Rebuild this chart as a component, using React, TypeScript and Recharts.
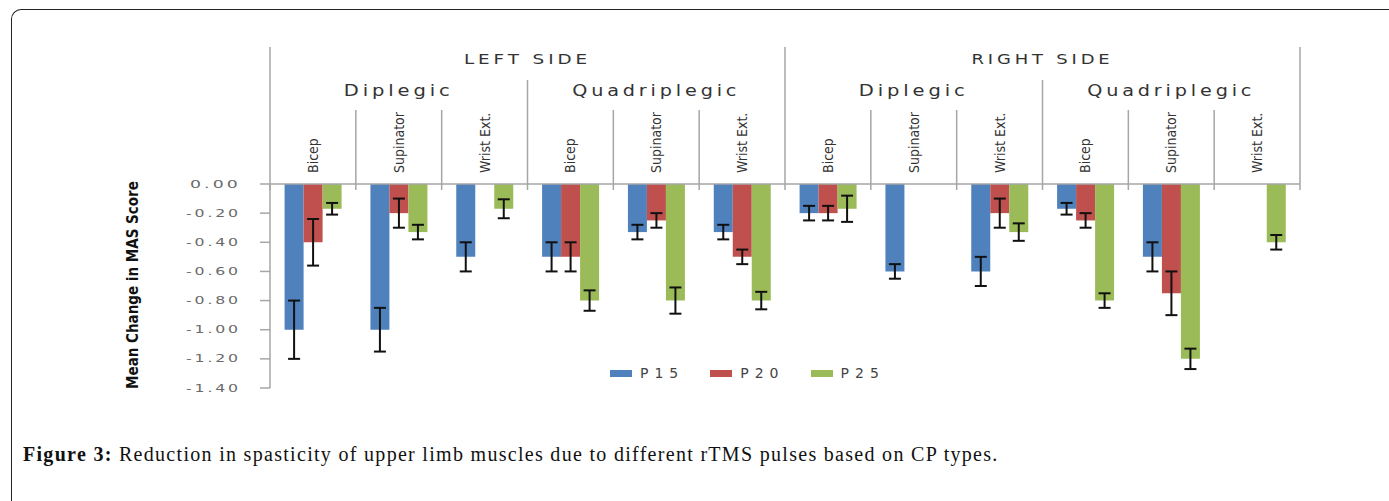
import React from 'react';
import { BarChart, Bar, XAxis, YAxis, ErrorBar, Legend } from 'recharts';

// categories (12 muscles, in groups of 3 per CP type, 6 per side)
const muscles = ['Bicep', 'Supinator', 'Wrist Ext.', 'Bicep', 'Supinator', 'Wrist Ext.', 'Bicep', 'Supinator', 'Wrist Ext.', 'Bicep', 'Supinator', 'Wrist Ext.'];
const cpTypes = ['Diplegic', 'Quadriplegic', 'Diplegic', 'Quadriplegic'];
const sides = ['LEFT SIDE', 'RIGHT SIDE'];

// mean change in MAS score per pulse setting
const p15 = [-1.0, -1.0, -0.5, -0.5, -0.33, -0.33, -0.2, -0.6, -0.6, -0.17, -0.5, null];
const p20 = [-0.4, -0.2, null, -0.5, -0.25, -0.5, -0.2, null, -0.2, -0.25, -0.75, null];
const p25 = [-0.17, -0.33, -0.17, -0.8, -0.8, -0.8, -0.17, null, -0.33, -0.8, -1.2, -0.4];

// error bars (+/-)
const p15Err = [0.2, 0.15, 0.1, 0.1, 0.05, 0.05, 0.05, 0.05, 0.1, 0.04, 0.1, null];
const p20Err = [0.16, 0.1, null, 0.1, 0.05, 0.05, 0.05, null, 0.1, 0.05, 0.15, null];
const p25Err = [0.04, 0.05, 0.065, 0.07, 0.09, 0.06, 0.09, null, 0.06, 0.05, 0.07, 0.05];

const yTicks = [0, -0.2, -0.4, -0.6, -0.8, -1.0, -1.2, -1.4];

const data = muscles.map((m, i) => ({
  muscle: m,
  P15: p15[i], e15: p15Err[i],
  P20: p20[i], e20: p20Err[i],
  P25: p25[i], e25: p25Err[i],
}));

// layout
const W = 1389;
const H = 440;
const PLOT_LEFT = 270;
const PLOT_RIGHT = 1300;
const PLOT_TOP = 184;
const PLOT_BOTTOM = 388;
const BAND = (PLOT_RIGHT - PLOT_LEFT) / muscles.length;
const GRID = '#a6a6a6';

const CategoryTick = (props: any) => {
  const { x, index } = props;
  const left = x - BAND / 2;
  const top = index % 6 === 0 ? 47 : index % 3 === 0 ? 80 : 110;
  const cp = index % 3 === 1 ? cpTypes[Math.floor(index / 3)] : null;
  const side = index % 6 === 2 ? sides[Math.floor(index / 6)] : null;
  return (
    <g>
      <line x1={left} x2={left} y1={top} y2={190} stroke={GRID} strokeWidth={1.5} />
      {index === muscles.length - 1 && (
        <line x1={x + BAND / 2} x2={x + BAND / 2} y1={47} y2={190} stroke={GRID} strokeWidth={1.5} />
      )}
      <text
        x={x}
        y={173}
        transform={`rotate(-90, ${x}, 173)`}
        textAnchor="start"
        dominantBaseline="central"
        fontFamily="'Liberation Sans Narrow', 'DejaVu Sans Condensed', sans-serif"
        fontSize={14}
        fill="#333"
      >
        {muscles[index]}
      </text>
      {cp && (
        <text x={x} y={96} textAnchor="middle" fontFamily="'DejaVu Sans', sans-serif" fontSize={15}
          letterSpacing={3} fill="#333" textLength={cp.length * 14.5 - 6} lengthAdjust="spacingAndGlyphs">
          {cp}
        </text>
      )}
      {side && (
        <text x={x + BAND / 2} y={64} textAnchor="middle" fontFamily="'DejaVu Sans', sans-serif" fontSize={14}
          letterSpacing={3} fill="#333" textLength={side.length * 14.8 - 6} lengthAdjust="spacingAndGlyphs">
          {side}
        </text>
      )}
    </g>
  );
};

const ValueTick = (props: any) => {
  const { x, y, payload } = props;
  const v = payload.value;
  const label = Math.abs(v) < 1e-9 ? '0.00' : v.toFixed(2);
  return (
    <text x={x - 17} y={y} textAnchor="end" dominantBaseline="central" fontFamily="'DejaVu Sans', sans-serif"
      fontSize={11} letterSpacing={2} fill="#6a6a6a" textLength={label.startsWith('-') ? 55 : 51}
      lengthAdjust="spacingAndGlyphs">
      {label}
    </text>
  );
};

const YLabel = (props: any) => {
  const vb = props.viewBox;
  const cx = vb.x + 133;
  const cy = vb.y + vb.height / 2 - 1;
  return (
    <text x={cx} y={cy} transform={`rotate(-90, ${cx}, ${cy})`} textAnchor="middle" dominantBaseline="central"
      fontFamily="'Liberation Sans Narrow', 'DejaVu Sans Condensed', sans-serif" fontWeight="bold" fontSize={15} fill="#111">
      Mean Change in MAS Score
    </text>
  );
};

const renderLegend = (props: any) => (
  <div style={{ display: 'flex', alignItems: 'center' }}>
    {props.payload.map((item: any) => (
      <div key={item.value} style={{ display: 'flex', alignItems: 'center', marginRight: 26 }}>
        <span style={{ display: 'inline-block', width: 22, height: 7, background: item.color, marginRight: 8 }} />
        <span style={{ fontFamily: "'DejaVu Sans', sans-serif", fontSize: 14, letterSpacing: 6, color: '#444' }}>
          {item.value}
        </span>
      </div>
    ))}
  </div>
);

export default function App() {
  return (
    <>
      <div
        style={{
          position: 'absolute', left: 11, top: 9, width: W - 11, height: 501 - 9, boxSizing: 'border-box',
          borderLeft: '1.5px solid #222', borderTop: '1.5px solid #222', borderTopLeftRadius: 10,
        }}
      />
      <div style={{ position: 'absolute', left: 0, top: 0, width: W, height: H }}>
        <BarChart
          width={W}
          height={H}
          data={data}
          margin={{ top: PLOT_TOP - 180, right: W - PLOT_RIGHT, bottom: H - PLOT_BOTTOM, left: 0 }}
          barCategoryGap="17%"
          barGap={0}
        >
          <XAxis
            dataKey="muscle"
            orientation="top"
            height={180}
            interval={0}
            tickLine={false}
            axisLine={{ stroke: GRID, strokeWidth: 1.5 }}
            tick={<CategoryTick />}
          />
          <YAxis
            width={PLOT_LEFT}
            domain={[-1.4, 0]}
            ticks={yTicks}
            tickSize={10}
            tickLine={{ stroke: GRID, strokeWidth: 1.5 }}
            axisLine={{ stroke: GRID, strokeWidth: 1.5 }}
            tick={<ValueTick />}
            label={<YLabel />}
          />
          <Legend
            layout="horizontal"
            verticalAlign="middle"
            align="center"
            content={renderLegend}
            wrapperStyle={{ position: 'absolute', left: 610, top: 365, width: 'auto' }}
          />
          <Bar dataKey="P15" name="P15" fill="#4f81bd" isAnimationActive={false}>
            <ErrorBar dataKey="e15" width={6} strokeWidth={2} stroke="#111" direction="y" />
          </Bar>
          <Bar dataKey="P20" name="P20" fill="#c0504d" isAnimationActive={false}>
            <ErrorBar dataKey="e20" width={6} strokeWidth={2} stroke="#111" direction="y" />
          </Bar>
          <Bar dataKey="P25" name="P25" fill="#9bbb59" isAnimationActive={false}>
            <ErrorBar dataKey="e25" width={6} strokeWidth={2} stroke="#111" direction="y" />
          </Bar>
        </BarChart>
      </div>
      <div
        style={{
          position: 'absolute', left: 23, top: 443, fontFamily: "'Liberation Serif', serif", fontSize: 20,
          letterSpacing: 1.3, color: '#111', whiteSpace: 'nowrap',
        }}
      >
        <b>Figure 3:</b> Reduction in spasticity of upper limb muscles due to different rTMS pulses based on CP types.
      </div>
    </>
  );
}
